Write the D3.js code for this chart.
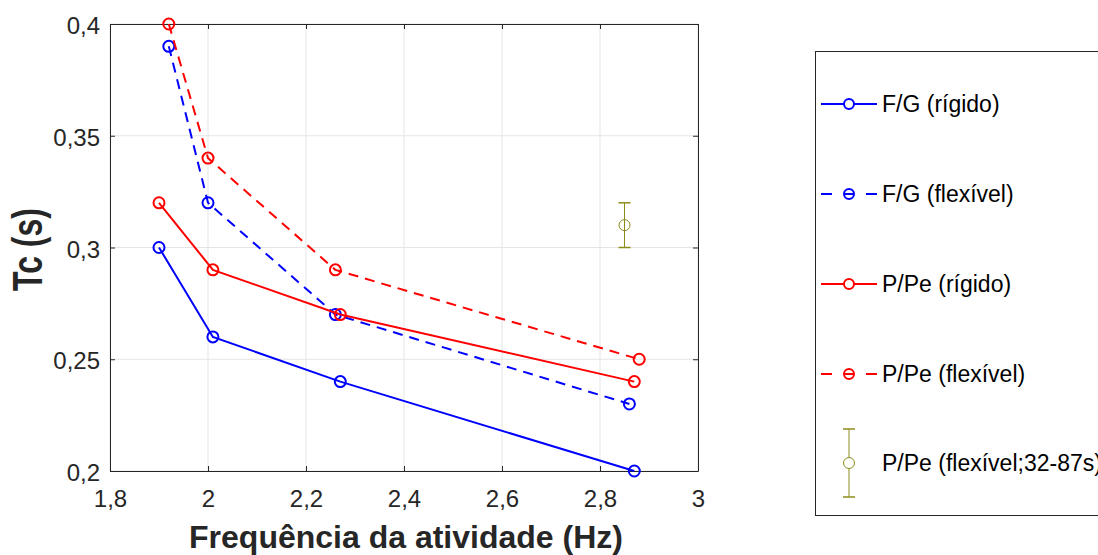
<!DOCTYPE html>
<html><head><meta charset="utf-8">
<script src="https://cdn.jsdelivr.net/npm/d3@7"></script>
<style>body{margin:0;background:#fff}svg{display:block}</style>
</head><body><svg id="c" width="1098" height="555"></svg>
<script>
const xTicks = [1.8, 2, 2.2, 2.4, 2.6, 2.8, 3];
const yTicks = [0.2, 0.25, 0.3, 0.35, 0.4];
const fgRigX = [1.9, 2.01, 2.27, 2.87];
const fgRigY = [0.30, 0.26, 0.24, 0.20];
const fgFlxX = [1.92, 2.0, 2.26, 2.86];
const fgFlxY = [0.39, 0.32, 0.27, 0.23];
const ppRigX = [1.9, 2.01, 2.27, 2.87];
const ppRigY = [0.32, 0.29, 0.27, 0.24];
const ppFlxX = [1.92, 2.0, 2.26, 2.88];
const ppFlxY = [0.40, 0.34, 0.29, 0.25];
const errX = [2.85];
const errY = [0.31];
const errD = [0.01];
const labels = ["F/G (rígido)", "F/G (flexível)", "P/Pe (rígido)", "P/Pe (flexível)", "P/Pe (flexível;32-87s)"];

const svg = d3.select("#c");
const font = "'Liberation Sans', Arial, Helvetica, sans-serif";
const ink = "#262626";
const L = 110, R = 698, T = 24, B = 471;
const x = d3.scaleLinear().domain([1.8, 3]).range([L, R]);
const y = d3.scaleLinear().domain([0.2, 0.4]).range([B, T]);
const fmt = d => String(+d.toFixed(2)).replace(".", ",");

// grid
const g = svg.append("g");
g.selectAll(".gx").data(xTicks).join("line")
  .attr("x1", d => x(d)).attr("x2", d => x(d)).attr("y1", T).attr("y2", B)
  .attr("stroke", "#e5e5e5").attr("stroke-width", 1);
g.selectAll(".gy").data(yTicks).join("line")
  .attr("y1", d => y(d)).attr("y2", d => y(d)).attr("x1", L).attr("x2", R)
  .attr("stroke", "#e5e5e5").attr("stroke-width", 1);

// axes
const ax = svg.append("g").attr("transform", `translate(0,${B})`)
  .call(d3.axisBottom(x).tickValues(xTicks).tickFormat(fmt).tickSizeInner(-5).tickSizeOuter(0).tickPadding(19));
const ay = svg.append("g").attr("transform", `translate(${L},0)`)
  .call(d3.axisLeft(y).tickValues(yTicks).tickFormat(fmt).tickSizeInner(-5).tickSizeOuter(0).tickPadding(10));
const axT = svg.append("g").attr("transform", `translate(0,${T})`)
  .call(d3.axisTop(x).tickValues(xTicks).tickFormat("").tickSizeInner(-5).tickSizeOuter(0));
const ayR = svg.append("g").attr("transform", `translate(${R},0)`)
  .call(d3.axisRight(y).tickValues(yTicks).tickFormat("").tickSizeInner(-5).tickSizeOuter(0));
[ax, ay, axT, ayR].forEach(a => {
  a.select(".domain").attr("stroke", ink).attr("stroke-width", 1);
  a.selectAll(".tick line").attr("stroke", ink);
  a.selectAll("text").attr("fill", ink).style("font-family", font).style("font-size", "24px");
});
ay.selectAll("text").attr("dy", "0.4em");

const series = [
  {xs: fgRigX, ys: fgRigY, color: "#0000ff", dash: null},
  {xs: fgFlxX, ys: fgFlxY, color: "#0000ff", dash: "10,7"},
  {xs: ppRigX, ys: ppRigY, color: "#ff0000", dash: null},
  {xs: ppFlxX, ys: ppFlxY, color: "#ff0000", dash: "10,7"}
];
const line = d3.line().x(d => x(d[0])).y(d => y(d[1]));
series.forEach(s => {
  const pts = s.xs.map((v, i) => [v, s.ys[i]]);
  svg.append("path").datum(pts).attr("d", line).attr("fill", "none")
    .attr("stroke", s.color).attr("stroke-width", 2).attr("stroke-dasharray", s.dash);
  svg.selectAll(null).data(pts).join("circle")
    .attr("cx", d => x(d[0])).attr("cy", d => y(d[1])).attr("r", 5.5)
    .attr("fill", "none").attr("stroke", s.color).attr("stroke-width", 2);
});

// error bar
const olive = "#8c8c1a";
errX.forEach((v, i) => {
  const cx = x(v), y1 = y(errY[i] - errD[i]), y2 = y(errY[i] + errD[i]);
  svg.append("line").attr("x1", cx).attr("x2", cx).attr("y1", y1).attr("y2", y2).attr("stroke", olive).attr("stroke-width", 1);
  [y1, y2].forEach(yy => svg.append("line").attr("x1", cx - 6).attr("x2", cx + 6).attr("y1", yy).attr("y2", yy).attr("stroke", olive).attr("stroke-width", 1.5));
  svg.append("circle").attr("cx", cx).attr("cy", y(errY[i])).attr("r", 5.5).attr("fill", "none").attr("stroke", olive).attr("stroke-width", 1);
});

// axis labels
svg.append("text").attr("x", (L + R) / 2 + 2).attr("y", 548).attr("text-anchor", "middle")
  .attr("fill", ink).style("font-family", font).style("font-size", "32px").style("font-weight", "bold")
  .text("Frequência da atividade (Hz)");
svg.append("text").attr("transform", `translate(42,${(T + B) / 2 + 2}) scale(1.3,1) rotate(-90)`).attr("text-anchor", "middle")
  .attr("fill", ink).style("font-family", font).style("font-size", "32px").style("font-weight", "bold")
  .text("Tc (s)");

// legend
const lg = svg.append("g");
lg.append("rect").attr("x", 815.5).attr("y", 51.5).attr("width", 300).attr("height", 464)
  .attr("fill", "#fff").attr("stroke", ink).attr("stroke-width", 1);
const ly = [104, 194, 284, 374, 463];
series.forEach((s, i) => {
  if (s.dash) {
    lg.append("line").attr("x1", 821).attr("x2", 832).attr("y1", ly[i]).attr("y2", ly[i]).attr("stroke", s.color).attr("stroke-width", 2);
    lg.append("line").attr("x1", 866).attr("x2", 877).attr("y1", ly[i]).attr("y2", ly[i]).attr("stroke", s.color).attr("stroke-width", 2);
  } else {
    lg.append("line").attr("x1", 821).attr("x2", 877).attr("y1", ly[i]).attr("y2", ly[i]).attr("stroke", s.color).attr("stroke-width", 2);
  }
  lg.append("circle").attr("cx", 849).attr("cy", ly[i]).attr("r", 5).attr("fill", "#fff").attr("stroke", s.color).attr("stroke-width", 2);
  if (s.dash) lg.append("line").attr("x1", 844).attr("x2", 854).attr("y1", ly[i]).attr("y2", ly[i]).attr("stroke", s.color).attr("stroke-width", 2);
});
lg.append("line").attr("x1", 849).attr("x2", 849).attr("y1", ly[4] - 34).attr("y2", ly[4] + 34).attr("stroke", olive).attr("stroke-width", 1);
[ly[4] - 34, ly[4] + 34].forEach(yy => lg.append("line").attr("x1", 843).attr("x2", 855).attr("y1", yy).attr("y2", yy).attr("stroke", olive).attr("stroke-width", 1.5));
lg.append("circle").attr("cx", 849).attr("cy", ly[4]).attr("r", 5.5).attr("fill", "#fff").attr("stroke", olive).attr("stroke-width", 1);
labels.forEach((t, i) => {
  lg.append("text").attr("x", 882).attr("y", ly[i]).attr("dy", "0.35em")
    .attr("fill", "#000").style("font-family", font).style("font-size", "23px").text(t);
});
</script></body></html>
